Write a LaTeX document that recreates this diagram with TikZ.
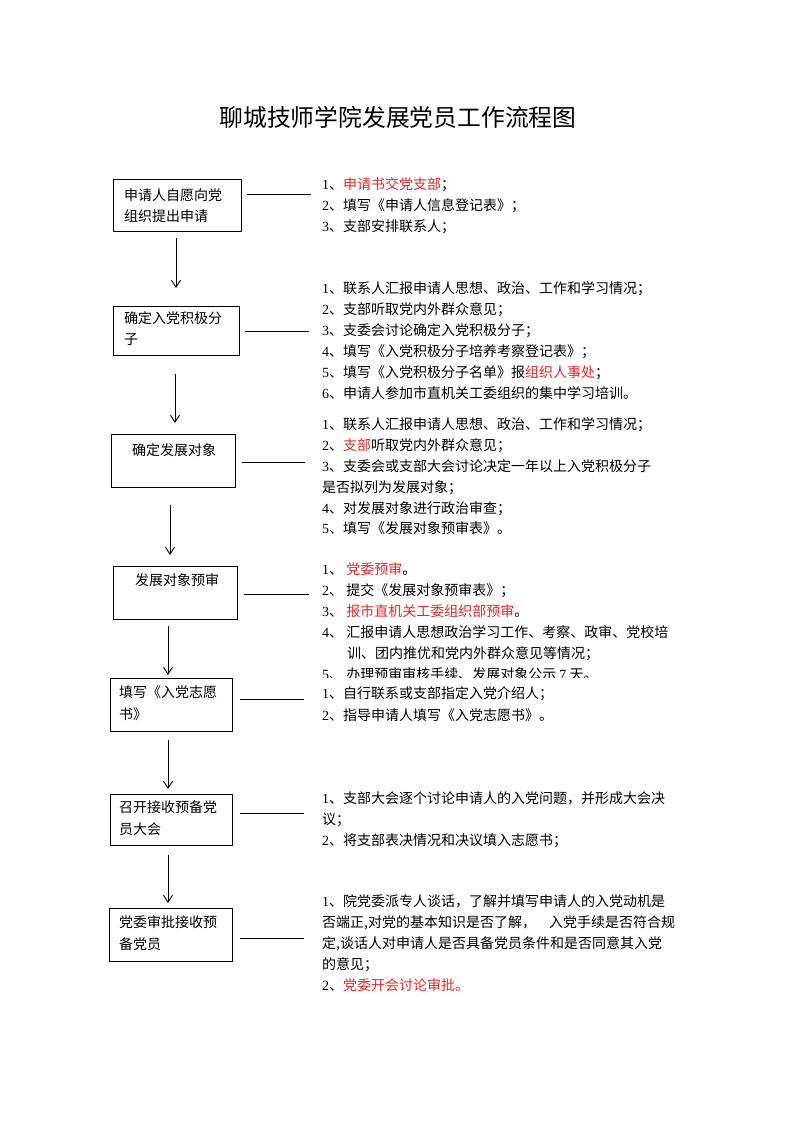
\documentclass[tikz,border=0pt]{standalone}
\usepackage{fontspec}
\setmainfont{Liberation Serif}
\newfontfamily\cjk{Noto Sans CJK SC}
\usetikzlibrary{arrows.meta}
\definecolor{redtxt}{RGB}{228,40,40}
\newcommand\rd[1]{\textcolor{redtxt}{#1}}
\newcommand\dg[1]{{\rmfamily #1}}
\begin{document}
\begin{tikzpicture}[x=1pt,y=-1pt,
  box/.style={draw, line width=0.9pt, inner sep=0, anchor=north west},
  t/.style={anchor=west, inner sep=0, font=\fontsize{14}{14}\selectfont\cjk, text height=12.3pt, text depth=1.7pt},
  ttl/.style={inner sep=0, font=\fontsize{23.8}{23.8}\selectfont\cjk, text height=20.9pt, text depth=2.9pt},
  ln/.style={line width=0.9pt},
  arr/.style={line width=0.9pt, -{Straight Barb[length=7pt,width=9pt]}}]
\useasboundingbox (0,0) rectangle (793,1122);
\fill[white] (0,0) rectangle (793,1122);

\node[ttl] (title) at (398,117) {聊城技师学院发展党员工作流程图};

% boxes
\node[box, minimum width=128pt, minimum height=52pt] (b1) at (113,179) {};
\node[box, minimum width=126pt, minimum height=49pt] (b2) at (113,306) {};
\node[box, minimum width=124pt, minimum height=53pt] (b3) at (111,434) {};
\node[box, minimum width=124pt, minimum height=53pt] (b4) at (113,566) {};
\node[box, minimum width=122pt, minimum height=53pt] (b5) at (110,678) {};
\node[box, minimum width=122pt, minimum height=51pt] (b6) at (110,794) {};
\node[box, minimum width=123pt, minimum height=53pt] (b7) at (109,908) {};

% box texts
\node[t] (b1a) at (124,195) {申请人自愿向党};
\node[t] (b1b) at (124,216) {组织提出申请};
\node[t] (b2a) at (124,318) {确定入党积极分};
\node[t] (b2b) at (124,339) {子};
\node[t] (b3a) at (132,450) {确定发展对象};
\node[t] (b4a) at (135,580) {发展对象预审};
\node[t] (b5a) at (119,692) {填写《入党志愿};
\node[t] (b5b) at (119,714) {书》};
\node[t] (b6a) at (119,807) {召开接收预备党};
\node[t] (b6b) at (119,829) {员大会};
\node[t] (b7a) at (119,922) {党委审批接收预};
\node[t] (b7b) at (119,944) {备党员};

% vertical arrows
\coordinate (a1s) at (176,238); \coordinate (a1e) at (176,288);
\coordinate (a2s) at (175,374); \coordinate (a2e) at (175,423);
\coordinate (a3s) at (170,505); \coordinate (a3e) at (170,555);
\coordinate (a4s) at (168,626); \coordinate (a4e) at (168,675);
\coordinate (a5s) at (168,740); \coordinate (a5e) at (168,789);
\coordinate (a6s) at (168,855); \coordinate (a6e) at (168,903);
\draw[arr] (a1s) -- (a1e);
\draw[arr] (a2s) -- (a2e);
\draw[arr] (a3s) -- (a3e);
\draw[arr] (a4s) -- (a4e);
\draw[arr] (a5s) -- (a5e);
\draw[arr] (a6s) -- (a6e);

% horizontal connectors
\coordinate (c1s) at (247,194); \coordinate (c1e) at (311,194);
\coordinate (c2s) at (245,331); \coordinate (c2e) at (309,331);
\coordinate (c3s) at (242,462); \coordinate (c3e) at (305,462);
\coordinate (c4s) at (244,594); \coordinate (c4e) at (309,594);
\coordinate (c5s) at (240,699); \coordinate (c5e) at (304,699);
\coordinate (c6s) at (240,813); \coordinate (c6e) at (304,813);
\coordinate (c7s) at (240,938); \coordinate (c7e) at (304,938);
\draw[ln] (c1s) -- (c1e);
\draw[ln] (c2s) -- (c2e);
\draw[ln] (c3s) -- (c3e);
\draw[ln] (c4s) -- (c4e);
\draw[ln] (c5s) -- (c5e);
\draw[ln] (c6s) -- (c6e);
\draw[ln] (c7s) -- (c7e);

% block 1
\node[t] (r11) at (322,184) {\dg{1}、\rd{申请书交党支部}；};
\node[t] (r12) at (322,205) {\dg{2}、填写《申请人信息登记表》；};
\node[t] (r13) at (322,226) {\dg{3}、支部安排联系人；};

% block 2
\node[t] (r21) at (322,288) {\dg{1}、联系人汇报申请人思想、政治、工作和学习情况；};
\node[t] (r22) at (322,309) {\dg{2}、支部听取党内外群众意见；};
\node[t] (r23) at (322,330) {\dg{3}、支委会讨论确定入党积极分子；};
\node[t] (r24) at (322,351) {\dg{4}、填写《入党积极分子培养考察登记表》；};
\node[t] (r25) at (322,372) {\dg{5}、填写《入党积极分子名单》报\rd{组织人事处}；};
\node[t] (r26) at (322,393) {\dg{6}、申请人参加市直机关工委组织的集中学习培训。};

% block 3
\node[t] (r31) at (322,424) {\dg{1}、联系人汇报申请人思想、政治、工作和学习情况；};
\node[t] (r32) at (322,445) {\dg{2}、\rd{支部}听取党内外群众意见；};
\node[t] (r33) at (322,466) {\dg{3}、支委会或支部大会讨论决定一年以上入党积极分子};
\node[t] (r34) at (322,487) {是否拟列为发展对象；};
\node[t] (r35) at (322,508) {\dg{4}、对发展对象进行政治审查；};
\node[t] (r36) at (322,528) {\dg{5}、填写《发展对象预审表》。};

% block 4
\node[t] (r41) at (322,569) {\dg{1}、 \rd{党委预审}。};
\node[t] (r42) at (322,590) {\dg{2}、 提交《发展对象预审表》；};
\node[t] (r43) at (322,611) {\dg{3}、 \rd{报市直机关工委组织部预审}。};
\node[t] (r44) at (322,632) {\dg{4}、 汇报申请人思想政治学习工作、考察、政审、党校培};
\node[t] (r45) at (347,653) {训、团内推优和党内外群众意见等情况；};
\begin{scope}
\clip (300,660) rectangle (700,677);
\node[t] (r46) at (322,674) {\dg{5}、 办理预审审核手续、发展对象公示 \dg{7} 天。};
\end{scope}

% block 5
\node[t] (r51) at (322,693) {\dg{1}、自行联系或支部指定入党介绍人；};
\node[t] (r52) at (322,715) {\dg{2}、指导申请人填写《入党志愿书》。};

% block 6
\node[t] (r61) at (322,798) {\dg{1}、支部大会逐个讨论申请人的入党问题，并形成大会决};
\node[t] (r62) at (322,819) {议；};
\node[t] (r63) at (322,840) {\dg{2}、将支部表决情况和决议填入志愿书；};

% block 7
\node[t] (r71) at (322,901) {\dg{1}、院党委派专人谈话，了解并填写申请人的入党动机是};
\node[t] (r72) at (322,922) {否端正,对党的基本知识是否了解，\hspace{13pt}入党手续是否符合规};
\node[t] (r73) at (322,943) {定,谈话人对申请人是否具备党员条件和是否同意其入党};
\node[t] (r74) at (322,964) {的意见；};
\node[t] (r75) at (322,985) {\dg{2}、\rd{党委开会讨论审批。}};
\end{tikzpicture}
\end{document}
